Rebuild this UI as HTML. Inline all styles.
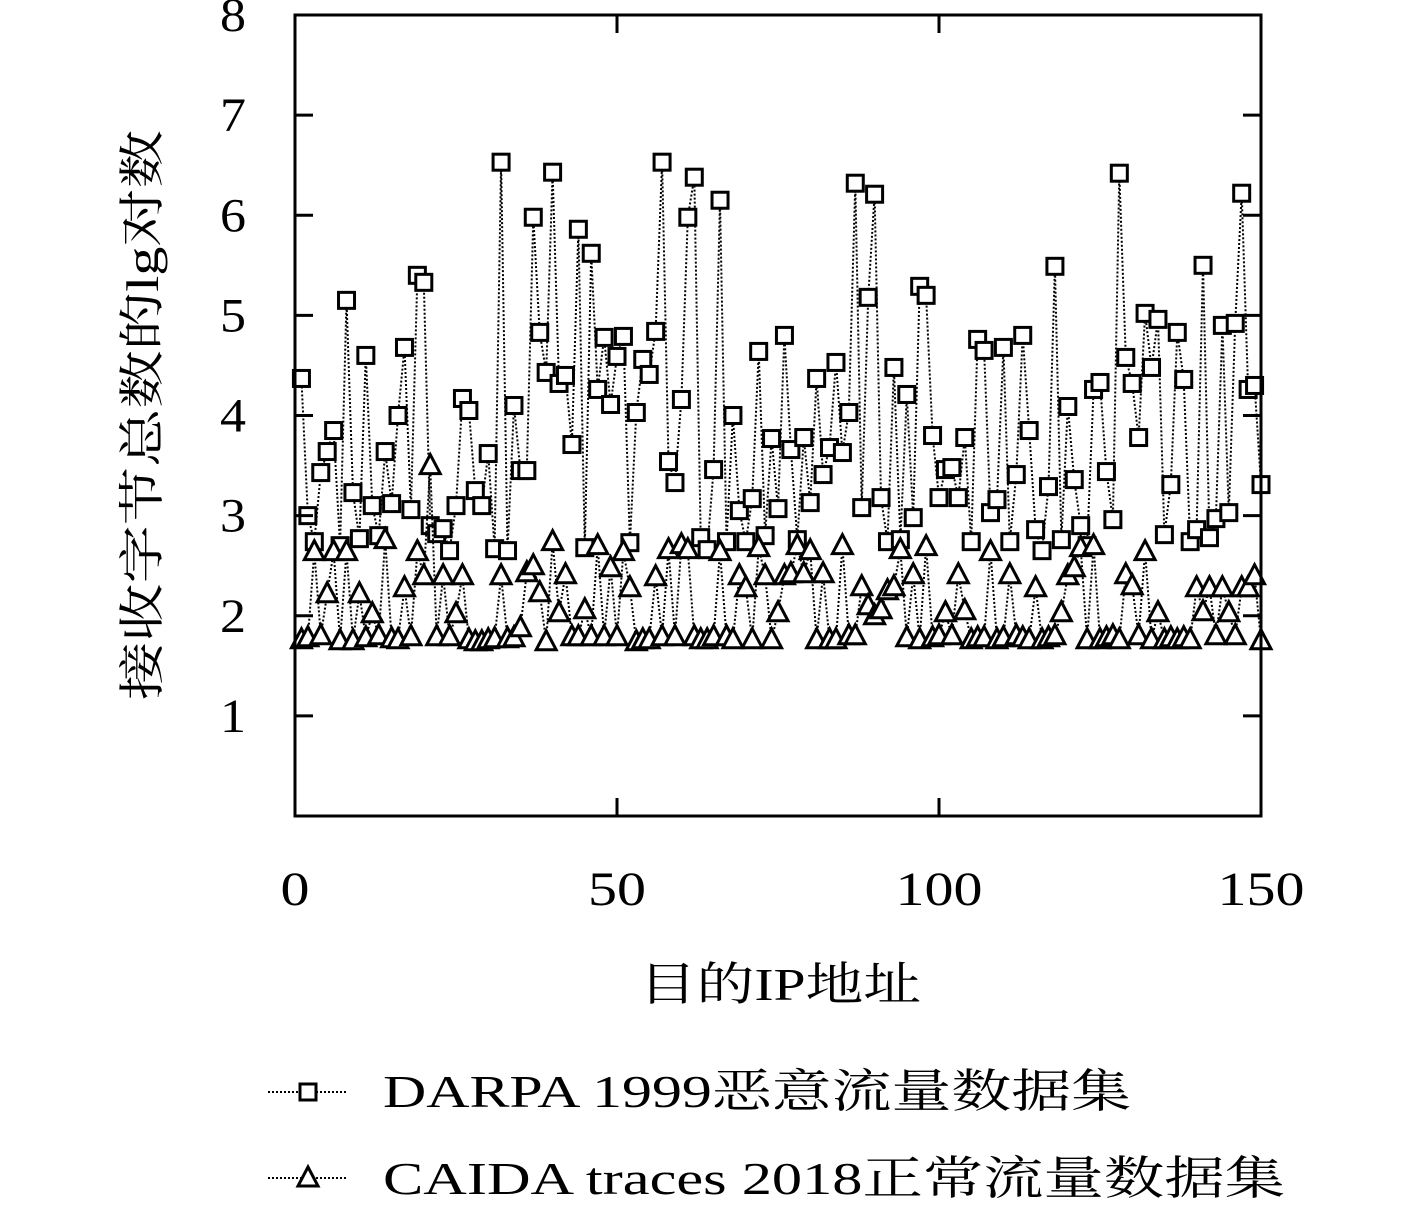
<!DOCTYPE html>
<html><head><meta charset="utf-8"><style>
html,body{margin:0;padding:0;background:#fff;}
svg{display:block;}
text{font-family:"Liberation Serif","Noto Serif CJK SC",serif;fill:#000;}
</style></head><body>
<svg id="chart" width="1417" height="1207" viewBox="0 0 1417 1207" xmlns="http://www.w3.org/2000/svg">
<g id="grid"></g>
<g id="series"></g>
<rect x="295" y="15" width="966" height="801" fill="none" stroke="#000" stroke-width="3"/>
<g id="ticks"></g>
<text transform="translate(158,415) rotate(-90)" text-anchor="middle" font-size="46" textLength="570" lengthAdjust="spacingAndGlyphs">接收字节总数的lg对数</text>
<text x="780" y="1000" text-anchor="middle" font-size="46" textLength="282" lengthAdjust="spacingAndGlyphs">目的IP地址</text>
<g>
<g>
<line x1="268" y1="1092" x2="348" y2="1092" stroke="#000" stroke-width="2" stroke-dasharray="2,2"/>
<rect x="300" y="1084" width="16" height="16" fill="#fff" stroke="#000" stroke-width="3"/>
<text x="383" y="1107" font-size="46" textLength="748" lengthAdjust="spacingAndGlyphs">DARPA 1999恶意流量数据集</text>
</g>
<g>
<line x1="268" y1="1178" x2="348" y2="1178" stroke="#000" stroke-width="2" stroke-dasharray="2,2"/>
<polygon points="308,1167 298,1186 318,1186" fill="#fff" stroke="#000" stroke-width="3"/>
<text x="383" y="1194" font-size="46" textLength="902" lengthAdjust="spacingAndGlyphs">CAIDA traces 2018正常流量数据集</text>
</g>
</g>
</svg>
<script>
const xTicks = [0, 50, 100, 150];
const yTicks = [1, 2, 3, 4, 5, 6, 7, 8];
const darpa = [4.37,3.0,2.74,3.43,3.64,3.85,2.7,5.15,3.23,2.77,4.6,3.1,2.8,3.64,3.12,4.0,4.68,3.06,5.4,5.33,2.9,2.82,2.87,2.65,3.1,4.17,4.05,3.25,3.1,3.62,2.67,6.53,2.65,4.1,3.45,3.45,5.98,4.83,4.43,6.43,4.32,4.4,3.71,5.86,2.68,5.62,4.26,4.78,4.11,4.59,4.79,2.73,4.03,4.56,4.41,4.84,6.53,3.54,3.33,4.16,5.98,6.38,2.78,2.66,3.46,6.15,2.74,4.0,3.05,2.74,3.17,4.64,2.8,3.77,3.07,4.8,3.66,2.76,3.78,3.13,4.37,3.41,3.68,4.53,3.63,4.03,6.32,3.08,5.18,6.21,3.18,2.74,4.48,2.76,4.21,2.98,5.29,5.2,3.8,3.18,3.46,3.48,3.18,3.78,2.74,4.76,4.65,3.03,3.16,4.68,2.74,3.41,4.8,3.85,2.86,2.65,3.29,5.49,2.76,4.09,3.36,2.9,2.7,4.26,4.33,3.44,2.96,6.42,4.58,4.32,3.78,5.02,4.48,4.96,2.81,3.31,4.83,4.36,2.74,2.86,5.5,2.78,2.97,4.9,3.03,4.92,6.22,4.26,4.3,3.31];
const caida = [1.76,1.78,2.64,1.8,2.22,2.64,1.75,2.64,1.75,2.22,1.78,2.02,1.8,2.76,1.77,1.76,2.28,1.79,2.64,2.4,3.5,1.79,2.4,1.79,2.02,2.4,1.76,1.74,1.74,1.76,1.77,2.4,1.77,1.78,1.88,2.43,2.5,2.23,1.74,2.74,2.03,2.41,1.79,1.79,2.06,1.79,2.7,1.79,2.48,1.79,2.64,2.28,1.74,1.76,1.76,2.39,1.79,2.66,1.79,2.71,2.66,1.79,1.76,1.76,1.79,2.64,1.79,1.76,2.4,2.28,1.76,2.68,2.4,1.76,2.03,2.4,2.42,2.7,2.42,2.65,1.76,2.42,1.76,1.76,2.7,1.8,1.8,2.29,2.1,2.0,2.06,2.25,2.29,2.66,1.78,2.41,1.76,2.69,1.78,1.8,2.03,1.8,2.41,2.05,1.76,1.78,1.78,2.64,1.76,1.78,2.41,1.8,1.78,1.76,2.28,1.76,1.78,1.8,2.03,2.4,2.48,2.68,1.76,2.7,1.76,1.78,1.8,1.76,2.41,2.3,1.8,2.64,1.76,2.03,1.76,1.78,1.76,1.78,1.76,2.28,2.04,2.28,1.8,2.28,2.03,1.8,2.28,2.28,2.4,1.75];

const NS = 'http://www.w3.org/2000/svg';
const X0 = 295, X1 = 1261, Y0 = 816, Y1 = 15;
function xs(v){ return X0 + (X1 - X0) * v / 150; }
function ys(v){ return Y0 - (Y0 - Y1) * v / 8; }
function mk(tag, attrs, parent){
  const e = document.createElementNS(NS, tag);
  for (const k in attrs) e.setAttribute(k, attrs[k]);
  parent.appendChild(e);
  return e;
}
const ticks = document.getElementById('ticks');
yTicks.forEach(function(t){
  const y = ys(t);
  if (t < 8) {
    const a = mk('line', {x1:X0, y1:y, x2:X0+18, y2:y, stroke:'#000', 'stroke-width':3}, ticks);
    
    
    const b = mk('line', {x1:X1, y1:y, x2:X1-18, y2:y, stroke:'#000', 'stroke-width':3}, ticks);
    
    
  }
  const tx = mk('text', {x:246, y:y+16, 'text-anchor':'end', 'font-size':48, textLength:26, lengthAdjust:'spacingAndGlyphs'}, ticks);
  tx.textContent = t;
  
  
});
xTicks.forEach(function(t){
  const x = xs(t);
  if (t > 0 && t < 150) {
    const a = mk('line', {x1:x, y1:Y0, x2:x, y2:Y0-18, stroke:'#000', 'stroke-width':3}, ticks);
    
    
    const b = mk('line', {x1:x, y1:Y1, x2:x, y2:Y1+18, stroke:'#000', 'stroke-width':3}, ticks);
    
    
  }
  const n = String(t).length;
  const tx = mk('text', {x:x, y:905, 'text-anchor':'middle', 'font-size':48, textLength:29*n, lengthAdjust:'spacingAndGlyphs'}, ticks);
  tx.textContent = t;
  
  
});
const series = document.getElementById('series');
function drawSeries(vals, name, shape){
  const g = mk('g', {}, series);
  
  
  const pts = vals.map(function(v,i){ return xs(i+1).toFixed(1)+','+ys(v).toFixed(1); }).join(' ');
  const pl = mk('polyline', {points:pts, fill:'none', stroke:'#000', 'stroke-width':2, 'stroke-dasharray':'2,2'}, g);
  
  
  vals.forEach(function(v,i){
    const x = xs(i+1), y = ys(v);
    let m;
    if (shape === 'square') {
      m = mk('rect', {x:x-8, y:y-8, width:16, height:16, fill:'#fff', stroke:'#000', 'stroke-width':3}, g);
    } else {
      m = mk('polygon', {points:(x)+','+(y-11)+' '+(x-10)+','+(y+8)+' '+(x+10)+','+(y+8), fill:'#fff', stroke:'#000', 'stroke-width':3}, g);
    }
    
    
  });
}
drawSeries(darpa, 'darpa-series', 'square');
drawSeries(caida, 'caida-series', 'triangle');
</script>
</body></html>
